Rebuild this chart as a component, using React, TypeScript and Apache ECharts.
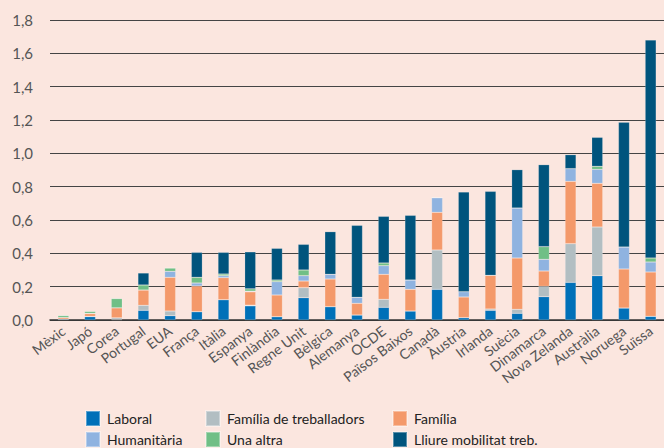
import React, { useEffect, useRef } from "react";
import * as echarts from "echarts";

const countries = ["Mèxic", "Japó", "Corea", "Portugal", "EUA", "França", "Itàlia", "Espanya", "Finlàndia", "Regne Unit", "Bèlgica", "Alemanya", "OCDE", "Països Baixos", "Canadà", "Àustria", "Irlanda", "Suècia", "Dinamarca", "Nova Zelanda", "Austràlia", "Noruega", "Suïssa"];

const laboral = [0.005, 0.02, 0.003, 0.058, 0.026, 0.05, 0.122, 0.085, 0.02, 0.134, 0.08, 0.03, 0.076, 0.054, 0.184, 0.014, 0.058, 0.04, 0.14, 0.226, 0.266, 0.072, 0.022];
const familiaTreb = [0, 0.002, 0.01, 0.03, 0.028, 0, 0, 0.004, 0, 0.06, 0, 0, 0.048, 0, 0.236, 0, 0.008, 0.024, 0.062, 0.232, 0.292, 0, 0];
const familia = [0.01, 0.016, 0.06, 0.092, 0.202, 0.154, 0.132, 0.08, 0.13, 0.04, 0.166, 0.07, 0.15, 0.13, 0.226, 0.124, 0.202, 0.308, 0.092, 0.374, 0.262, 0.234, 0.266];
const humanitaria = [0, 0.002, 0, 0, 0.036, 0.018, 0.012, 0.004, 0.08, 0.032, 0.028, 0.036, 0.052, 0.056, 0.088, 0.032, 0, 0.3, 0.07, 0.076, 0.084, 0.132, 0.06];
const unaAltra = [0.012, 0.012, 0.056, 0.03, 0.02, 0.034, 0.01, 0.014, 0.01, 0.034, 0, 0, 0.016, 0, 0, 0, 0, 0, 0.076, 0, 0.018, 0, 0.024];
const lliure = [0, 0, 0, 0.072, 0, 0.15, 0.13, 0.222, 0.19, 0.154, 0.256, 0.432, 0.28, 0.388, 0, 0.598, 0.504, 0.23, 0.492, 0.084, 0.174, 0.748, 1.308];

const seriesNames = ["Laboral", "Família de treballadors", "Família", "Humanitària", "Una altra", "Lliure mobilitat treb."];
const seriesData = [laboral, familiaTreb, familia, humanitaria, unaAltra, lliure];
const colors = ["#0070b8", "#b2bec2", "#f4996a", "#8fb3e0", "#70bf86", "#00547d"];

const FONT = "Lato, 'Noto Sans', sans-serif";

const legendLeft = [85, 205, 392, 85, 205, 392];
const legendTop = [410, 410, 410, 431, 431, 431];

export default function App() {
  const ref = useRef<HTMLDivElement>(null);
  useEffect(() => {
    if (!ref.current) return;
    const chart = echarts.init(ref.current, null, { renderer: "svg" });
    chart.setOption({
      animation: false,
      backgroundColor: "#fbe6df",
      textStyle: { fontFamily: FONT },
      grid: { left: 50, top: 20, width: 617, height: 300 },
      legend: seriesNames.map((name, i) => ({
        left: legendLeft[i],
        top: legendTop[i],
        padding: 0,
        itemWidth: 14,
        itemHeight: 15,
        icon: "rect",
        selectedMode: false,
        data: [name],
        textStyle: { fontFamily: FONT, fontSize: 14, color: "#222", padding: [0, 0, 0, 2] },
      })),
      xAxis: {
        type: "category",
        data: countries,
        axisLine: { lineStyle: { color: "#333", width: 1.5 } },
        axisTick: { inside: true, length: 5, lineStyle: { color: "#333" } },
        axisLabel: {
          interval: 0,
          rotate: 37,
          margin: 9,
          fontFamily: FONT,
          fontSize: 14,
          color: "#555",
        },
      },
      yAxis: {
        type: "value",
        min: 0,
        max: 1.8,
        interval: 0.2,
        axisLine: { show: false },
        axisTick: { show: false },
        axisLabel: {
          margin: 17,
          fontFamily: FONT,
          fontSize: 15,
          color: "#555",
          formatter: (v: number) => v.toFixed(1).replace(".", ","),
        },
        splitLine: { lineStyle: { color: "#444", width: 1 } },
      },
      series: seriesNames.map((name, i) => ({
        name,
        type: "bar",
        stack: "total",
        barWidth: 11,
        data: seriesData[i],
        itemStyle: { color: colors[i], borderColor: "rgba(255,255,255,0.35)", borderWidth: 0.5 },
      })),
    });
    return () => chart.dispose();
  }, []);
  return <div ref={ref} style={{ width: 664, height: 448, position: "absolute", left: 0, top: 0 }} />;
}
